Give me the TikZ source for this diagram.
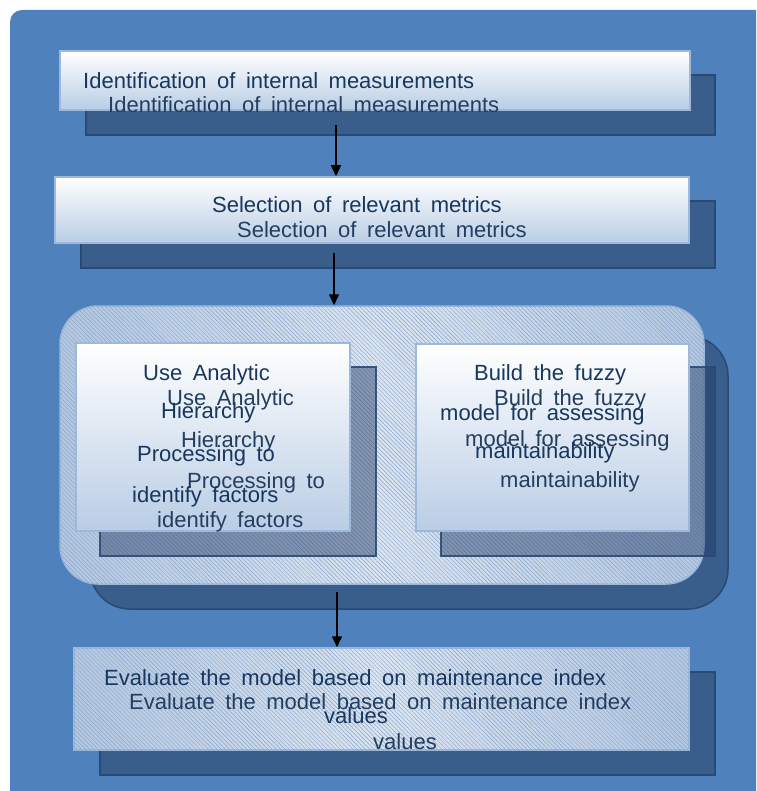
\documentclass[tikz,border=0pt]{standalone}
\usepackage{fontspec}
\setmainfont{Liberation Sans}
\usetikzlibrary{patterns.meta,arrows.meta,shadings}
\definecolor{bgblue}{HTML}{4F81BD}
\definecolor{shblue}{HTML}{395E8C}
\definecolor{shborder}{HTML}{2A4A74}
\definecolor{frborder}{HTML}{9DB8DA}
\definecolor{frbottom}{HTML}{B9CDE5}
\definecolor{contedge}{HTML}{B3C7E1}
\definecolor{contmid}{HTML}{DAE4F1}
\definecolor{hatch}{HTML}{8BA5C6}
\definecolor{innersh}{HTML}{1F3864}
\definecolor{ftextc}{HTML}{17375E}
\definecolor{stextc}{HTML}{243E5F}
\newcommand\dfont{\fontsize{22}{26}\selectfont\spaceskip=10.5pt plus 1pt minus 1pt\relax}
\tikzset{
  shadowbox/.style={draw=shborder, fill=shblue, line width=1.5pt, inner sep=0pt},
  frontbox/.style={draw=frborder, top color=white, bottom color=frbottom, line width=1.5pt, inner sep=0pt},
  innershadow/.style={draw=shborder, fill=innersh, fill opacity=0.45, draw opacity=0.9, line width=1.5pt, inner sep=0pt},
  hatchbox/.style={draw=frborder, left color=contedge, right color=contedge, middle color=contmid, line width=1.5pt, inner sep=0pt,
    postaction={pattern={Lines[angle=-45,distance=3pt,line width=0.45pt]}, pattern color=hatch}},
  ftext/.style={text=ftextc, font=\dfont, inner sep=0pt, anchor=base west},
  stext/.style={text=stextc, font=\dfont, inner sep=0pt, anchor=base west},
  arr/.style={draw=black, line width=1.4pt, -{Triangle[length=11pt,width=10pt]}}
}
\begin{document}
\begin{tikzpicture}[x=1pt,y=-1pt]
\useasboundingbox (0,0) rectangle (756,791);
\clip (0,0) rectangle (756,791);
\fill[white] (0,0) rectangle (756,791);
\fill[bgblue, rounded corners=12pt] (10,10) rectangle (790,820);

% box 1
\node[shadowbox, minimum width=629pt, minimum height=60pt] (b1s) at (400.5,105) {};
\node[frontbox, minimum width=630pt, minimum height=59pt] (b1f) at (375,80.5) {};
% box 2
\node[shadowbox, minimum width=634pt, minimum height=67pt] (b2s) at (398,234.5) {};
\node[frontbox, minimum width=634pt, minimum height=66pt] (b2f) at (372,210) {};
% container
\node[shadowbox, rounded corners=40pt, minimum width=638pt, minimum height=273pt] (cs) at (409,472.5) {};
\node[hatchbox, rounded corners=38pt, minimum width=644pt, minimum height=278pt] (cf) at (382,445) {};
% inner boxes
\node[innershadow, minimum width=276pt, minimum height=189pt] (ls) at (238,461.5) {};
\node[innershadow, minimum width=274pt, minimum height=189pt] (rs) at (578,461.5) {};
\node[frontbox, minimum width=274pt, minimum height=188pt] (lf) at (213,437) {};
\node[frontbox, minimum width=273pt, minimum height=187pt] (rf) at (552.5,437.5) {};
% bottom box
\node[shadowbox, minimum width=615pt, minimum height=103pt] (b4s) at (407.5,723.5) {};
\node[hatchbox, minimum width=615pt, minimum height=102pt] (b4f) at (381.5,699) {};

% arrows
\coordinate (a1) at (336,125);
\coordinate (a2) at (334,253);
\coordinate (a3) at (337,592);
\draw[arr] (a1) -- (a1 |- b2f.north);
\draw[arr] (a2) -- (a2 |- cf.north);
\draw[arr] (a3) -- (a3 |- b4f.north);

% texts box 1
\node[ftext] (t1f) at (83,89) {Identification of internal measurements};
\node[stext] (t1s) at (108,113) {Identification of internal measurements};
% texts box 2
\node[ftext] (t2f) at (212,213) {Selection of relevant metrics};
\node[stext] (t2s) at (237,238) {Selection of relevant metrics};
% left inner
\node[ftext] (l1f) at (143,380) {Use Analytic};
\node[stext] (l1s) at (167,405) {Use Analytic};
\node[ftext] (l2f) at (161,418) {Hierarchy};
\node[stext] (l2s) at (181,447) {Hierarchy};
\node[ftext] (l3f) at (137,461) {Processing to};
\node[stext] (l3s) at (187,488) {Processing to};
\node[ftext] (l4f) at (132,502) {identify factors};
\node[stext] (l4s) at (157,527) {identify factors};
% right inner
\node[ftext] (r1f) at (474,380) {Build the fuzzy};
\node[stext] (r1s) at (494,405) {Build the fuzzy};
\node[ftext] (r2f) at (440,420) {model for assessing};
\node[stext] (r2s) at (465,446) {model for assessing};
\node[ftext] (r3f) at (475,458) {maintainability};
\node[stext] (r3s) at (500,487) {maintainability};
% bottom
\node[ftext] (e1f) at (104,685) {Evaluate the model based on maintenance index};
\node[stext] (e1s) at (129,709) {Evaluate the model based on maintenance index};
\node[ftext] (e2f) at (324,723) {values};
\node[stext] (e2s) at (373,749) {values};
\end{tikzpicture}
\end{document}
